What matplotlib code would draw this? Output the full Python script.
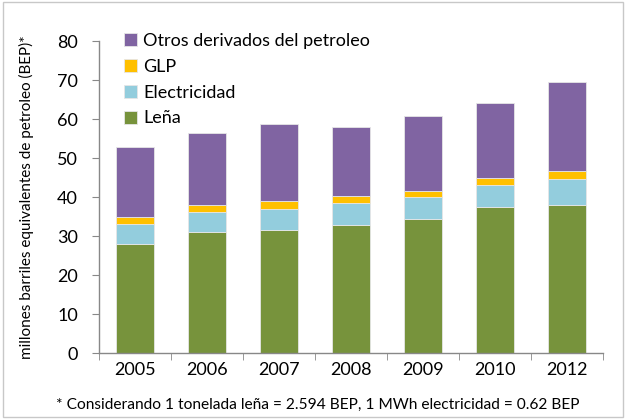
import matplotlib.pyplot as plt
import numpy as np
from matplotlib.patches import Rectangle

plt.rcParams['font.family'] = ['Lato', 'DejaVu Sans']

years = ["2005", "2006", "2007", "2008", "2009", "2010", "2012"]
lena = [28.1, 31.0, 31.5, 32.9, 34.4, 37.4, 38.0]
electricidad = [5.1, 5.3, 5.5, 5.5, 5.6, 5.7, 6.6]
glp = [1.7, 1.7, 1.9, 1.9, 1.7, 1.8, 2.1]
otros = [18.0, 18.5, 19.8, 17.7, 19.2, 19.1, 22.8]

series = [
    ("Leña", lena, "#77933C"),
    ("Electricidad", electricidad, "#93CDDD"),
    ("GLP", glp, "#FFC000"),
    ("Otros derivados del petroleo", otros, "#8064A2"),
]

fig = plt.figure(figsize=(6.25, 4.19), dpi=100)
ax = fig.add_axes([0.158, 0.157, 0.807, 0.745])

x = np.arange(len(years))
bottom = np.zeros(len(years))
handles = []
for name, vals, color in series:
    b = ax.bar(x, vals, width=0.53, bottom=bottom, color=color,
               edgecolor="#E6E6E6", linewidth=0.6, label=name)
    handles.append(b)
    bottom += np.array(vals)

ax.set_xlim(-0.5, len(years) - 0.5)
ax.set_ylim(0, 80)
ax.set_yticks(range(0, 81, 10))
ax.set_xticks(x)
ax.set_xticklabels(years)
ax.set_xticks(np.arange(-0.5, len(years), 1), minor=True)
ax.tick_params(axis="x", which="major", length=0, labelsize=13, pad=6)
ax.tick_params(axis="x", which="minor", length=5, color="#888888", direction="out")
ax.tick_params(axis="y", length=5, color="#888888", labelsize=13, pad=10)

for side in ["top", "right"]:
    ax.spines[side].set_visible(False)
for side in ["left", "bottom"]:
    ax.spines[side].set_color("#888888")
    ax.spines[side].set_linewidth(1.0)

ax.set_ylabel("millones barriles equivalentes de petroleo (BEP)*", fontsize=11, labelpad=22)
ax.yaxis.set_label_coords(-0.128, 0.5)

ax.legend(handles[::-1], [s[0] for s in series][::-1], loc="upper left",
          bbox_to_anchor=(0.035, 1.05), frameon=False, fontsize=13,
          handlelength=0.75, handleheight=0.75, handletextpad=0.35,
          labelspacing=0.55, borderaxespad=0)

fig.text(0.508, 0.033, "* Considerando 1 tonelada leña = 2.594 BEP, 1 MWh electricidad = 0.62 BEP",
         ha="center", va="center", fontsize=11.2)

fig.patches.append(Rectangle((0.004, 0.004), 0.992, 0.992, transform=fig.transFigure,
                             fill=False, edgecolor="#C8C8C8", linewidth=1))

fig.savefig("out.png", dpi=100)
